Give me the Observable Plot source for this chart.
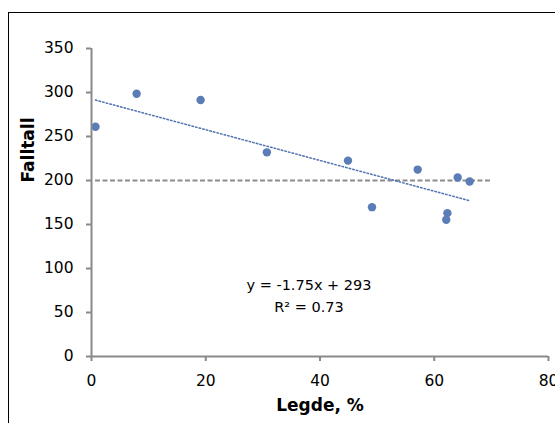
<!DOCTYPE html>
<html>
<head>
<meta charset="utf-8">
<script src="https://cdn.jsdelivr.net/npm/d3@7"></script>
<script src="https://cdn.jsdelivr.net/npm/@observablehq/plot@0.6"></script>
<style>
  html, body { margin: 0; padding: 0; background: #fff; overflow: hidden; width: 555px; height: 423px; }
  #frame { position: absolute; left: 8px; top: 12px; width: 620px; height: 500px; border: 1px solid #000; box-sizing: border-box; }
  #chart { position: absolute; left: 0; top: 0; }
</style>
</head>
<body>
<div id="frame"></div>
<div id="chart"></div>
<script>
// Data
const legde    = [0.7, 7.9, 19.1, 30.7, 44.9, 49.1, 57.1, 62.3, 62.1, 64.1, 66.2];
const falltall = [261, 298.6, 291.5, 232, 222.6, 169.7, 212.4, 162.9, 155.4, 203.4, 198.8];

const xTicks = [0, 20, 40, 60, 80];
const yTicks = [0, 50, 100, 150, 200, 250, 300, 350];

const referenceValue = 200;
const referenceSpan = [0.7, 70];

const equationLines = ["y = -1.75x + 293", "R² = 0.73"];
const xLabel = "Legde, %";
const yLabel = "Falltall";

const data = legde.map((x, i) => ({x, y: falltall[i]}));

const axisGrey = "#898989";
const dotBlue = "#5b7db7";

const chart = Plot.plot({
  width: 555,
  height: 423,
  marginLeft: 91,
  marginRight: 7,
  marginTop: 48,
  marginBottom: 67,
  style: { fontFamily: "DejaVu Sans", fontSize: "15px", background: "transparent", color: "#000" },
  x: { domain: [0, 80], ticks: xTicks },
  y: { domain: [0, 350], ticks: yTicks },
  marks: [
    Plot.axisX(xTicks, { tickSize: 5, tickPadding: 13, stroke: axisGrey, strokeWidth: 2, fill: "#000", fontSize: 15.5, label: null }),
    Plot.axisY(yTicks, { tickSize: 5, tickPadding: 13, stroke: axisGrey, strokeWidth: 2, fill: "#000", fontSize: 15.5, label: null }),
    Plot.ruleY([referenceValue], { x1: referenceSpan[0], x2: referenceSpan[1], stroke: "#8c8c8c", strokeWidth: 1.8, strokeDasharray: "5,2.5" }),
    Plot.linearRegressionY(data, { x: "x", y: "y", ci: 0, stroke: "#4f72b0", strokeWidth: 1.5, strokeDasharray: "1.5,2.2" }),
    Plot.dot(data, { x: "x", y: "y", r: 4.2, fill: dotBlue, stroke: "none" }),
    Plot.ruleX([0], { stroke: axisGrey, strokeWidth: 2 }),
    Plot.ruleY([0], { stroke: axisGrey, strokeWidth: 2 }),
    Plot.text([equationLines.join("\n")], { text: d => d, frameAnchor: "middle", lineAnchor: "top", dx: -11, dy: 71, lineHeight: 1.57, fontSize: 14.5, fill: "#000" }),
    Plot.text([xLabel], { text: d => d, frameAnchor: "bottom", lineAnchor: "middle", dy: 49, fontSize: 17, fontWeight: "bold", fill: "#000" }),
    Plot.text([yLabel], { text: d => d, frameAnchor: "left", lineAnchor: "middle", rotate: -90, dx: -63, dy: -20, fontSize: 17, fontWeight: "bold", fill: "#000" })
  ]
});
document.getElementById("chart").append(chart);
</script>
</body>
</html>
